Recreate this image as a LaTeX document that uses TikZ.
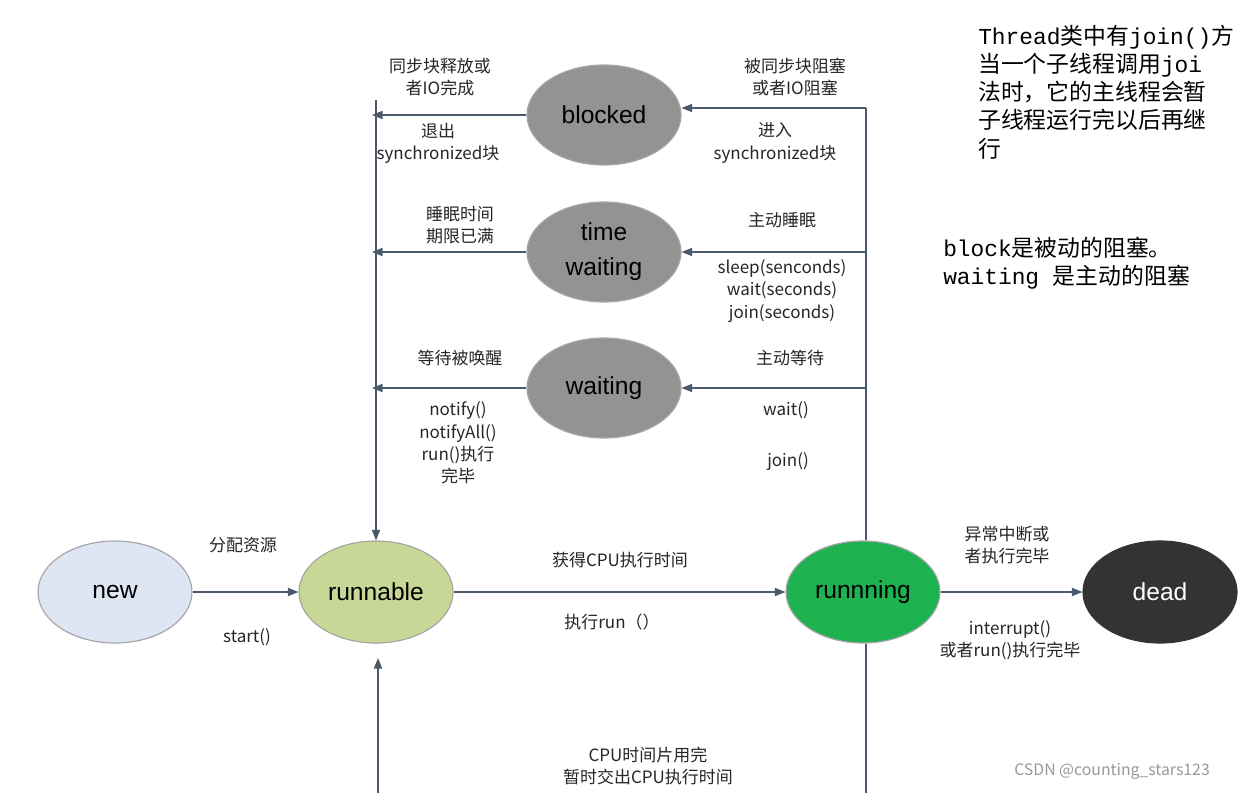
\documentclass[tikz,border=0pt]{standalone}
\usepackage{fontspec}
\setmainfont{Liberation Sans}
\newfontfamily\cjk{Noto Sans CJK SC}
\newfontfamily\nm{Liberation Mono}
\usetikzlibrary{arrows.meta}
\definecolor{ln}{HTML}{4A5A6A}
\newlength\pxu \setlength\pxu{0.03cm}
\tikzset{
 st/.style={ellipse,draw=gray!70,line width=1pt,minimum width=154\pxu,minimum height=102\pxu,font=\fontsize{21}{23}\selectfont},
 lab/.style={font=\cjk\fontsize{14.5}{19}\selectfont,align=center,text=black!85},
 ar/.style={draw=ln,line width=1pt,-{Triangle[length=9pt,width=7pt]}},
 pl/.style={draw=ln,line width=1pt},
 note/.style={font=\cjk\fontsize{19.5}{24}\selectfont,align=left,anchor=north west,inner sep=0pt}
}
\usetikzlibrary{shapes.geometric}
\begin{document}
\begin{tikzpicture}[x=0.03cm,y=-0.03cm]
\useasboundingbox (0,0) rectangle (1245,793);
\clip (0,0) rectangle (1245,793);
\fill[white] (0,0) rectangle (1245,793);
\node[st,fill={rgb,255:red,221;green,230;blue,242}] (new) at (115,592) {new};
\node[st,fill={rgb,255:red,200;green,214;blue,150}] (rbl) at (376,592) {runnable};
\node[st,fill={rgb,255:red,30;green,178;blue,80}] (run) at (863,592) {runnning};
\node[st,fill={rgb,255:red,51;green,51;blue,51},text=white,draw=black!80] (dead) at (1160,592) {dead};
\node[st,fill=gray!85,minimum height=100\pxu] (blk) at (604,115) {blocked};
\node[st,fill=gray!85,minimum height=100\pxu,align=center,font=\fontsize{21}{30}\selectfont] (tw) at (604,252) {time\\waiting};
\node[st,fill=gray!85,minimum height=100\pxu] (wt) at (604,388) {waiting};
% coordinates
\coordinate (lt) at (376,100);
\coordinate (lb) at (372,115); \coordinate (lw1) at (372,252); \coordinate (lw2) at (372,388);
\coordinate (rt) at (866,108); \coordinate (rb) at (866,793);
\coordinate (r1) at (866,252); \coordinate (r2) at (866,388);
\coordinate (bb) at (378,793); \coordinate (bt) at (378,658);
\draw[ar] (lt) -- (rbl.north);
\draw[ar] (blk.west) -- (lb);
\draw[ar] (tw.west) -- (lw1);
\draw[ar] (wt.west) -- (lw2);
\draw[pl] (rt) -- (rt |- run.north);
\draw[pl] (rt |- run.south) -- (rb);
\draw[ar] (rt) -- (blk.east |- rt);
\draw[ar] (r1) -- (tw.east);
\draw[ar] (r2) -- (wt.east);
\draw[ar] (bb) -- (bt);
\draw[ar] (new) -- (rbl);
\draw[ar] (rbl) -- (run);
\draw[ar] (run) -- (dead);
% labels
\node[lab] at (440,77) {同步块释放或\\者IO完成};
\node[lab] at (438,143) {退出\\synchronized块};
\node[lab] at (460,225) {睡眠时间\\期限已满};
\node[lab] at (460,358) {等待被唤醒};
\node[lab] at (458,443) {notify()\\notifyAll()\\run()执行\\完毕};
\node[lab] at (795,77) {被同步块阻塞\\或者IO阻塞};
\node[lab] at (775,143) {进入\\synchronized块};
\node[lab] at (782,220) {主动睡眠};
\node[lab] at (782,291) {sleep(senconds)\\wait(seconds)\\join(seconds)};
\node[lab] at (790,358) {主动等待};
\node[lab] at (786,410) {wait()};
\node[lab] at (788,462) {join()};
\node[lab] at (243,545) {分配资源};
\node[lab] at (247,637) {start()};
\node[lab] at (620,560) {获得CPU执行时间};
\node[lab] at (612,622) {执行run（）};
\node[lab] at (1007,545) {异常中断或\\者执行完毕};
\node[lab] at (1010,640) {interrupt()\\或者run()执行完毕};
\node[lab] at (648,766) {CPU时间片用完\\暂时交出CPU执行时间};
\node[font=\cjk\fontsize{13.5}{15}\selectfont,text=gray!80] at (1112,771) {CSDN @counting\_stars123};
\node[note] at (978,25) {{\nm Thread}类中有{\nm join()}方\\当一个子线程调用{\nm joi}\\法时，它的主线程会暂\\子线程运行完以后再继\\行};
\node[note] at (943,237) {{\nm block}是被动的阻塞。\\{\nm waiting }是主动的阻塞};
\end{tikzpicture}
\end{document}
